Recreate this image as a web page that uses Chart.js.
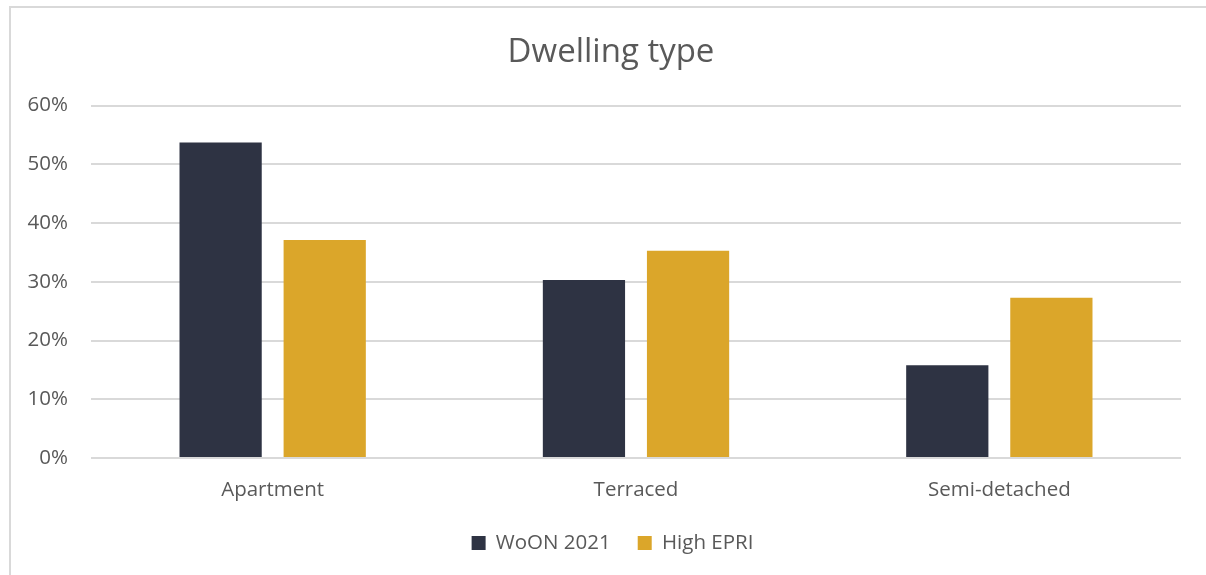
<!DOCTYPE html>
<html>
<head>
<meta charset="utf-8">
<script src="https://cdn.jsdelivr.net/npm/chart.js@4/dist/chart.umd.min.js"></script>
<style>
    html, body { margin: 0; padding: 0; background: #fff; overflow: hidden; }
    #wrap { position: relative; width: 1206px; height: 575px; }
    #frame { position: absolute; left: 9px; top: 6px; width: 1220px; height: 600px; border: 2px solid #d9d9d9; box-sizing: border-box; }
    #chart { position: absolute; left: 0; top: 0; }
</style>
</head>
<body>
<div id="wrap">
    <div id="frame"></div>
    <canvas id="chart" width="1206" height="575"></canvas>
</div>
<script>
const categories = ['Apartment', 'Terraced', 'Semi-detached'];
const woonValues = [53.7, 30.3, 15.8];
const highEpriValues = [37.1, 35.3, 27.3];
const yTicks = [0, 10, 20, 30, 40, 50, 60];

const textColor = '#595959';
const fontFamily = "'Open Sans', 'Noto Sans', sans-serif";

// title and legend are centred on the outer frame, not on the plot
const centreShift = {
    id: 'centreShift',
    afterLayout(chart) {
        chart.titleBlock.left += 20.5;
        chart.titleBlock.right += 20.5;
        chart.legend.left += 22;
        chart.legend.right += 22;
    }
};

new Chart(document.getElementById('chart'), {
    type: 'bar',
    data: {
        labels: categories,
        datasets: [
            {
                label: 'WoON 2021',
                data: woonValues,
                backgroundColor: '#2e3343',
                categoryPercentage: 0.573,
                barPercentage: 0.79,
            },
            {
                label: 'High EPRI',
                data: highEpriValues,
                backgroundColor: '#dba62a',
                categoryPercentage: 0.573,
                barPercentage: 0.79,
            }
        ]
    },
    options: {
        responsive: false,
        animation: false,
        layout: {
            padding: { left: 0, right: 25, top: 0, bottom: 11.75 }
        },
        plugins: {
            title: {
                display: true,
                text: 'Dwelling type',
                color: textColor,
                font: { family: fontFamily, size: 33, weight: 'normal' },
                padding: { top: 33, bottom: 33 }
            },
            legend: {
                position: 'bottom',
                labels: {
                    color: textColor,
                    font: { family: fontFamily, size: 20.5 },
                    boxWidth: 14,
                    boxHeight: 14,
                    padding: 27
                }
            },
            tooltip: { enabled: false }
        },
        scales: {
            x: {
                afterFit: scale => { scale.height = 47.75; },
                grid: { display: false, drawTicks: false },
                border: { display: false },
                ticks: {
                    color: textColor,
                    font: { family: fontFamily, size: 20.5 },
                    padding: 20
                }
            },
            y: {
                min: 0,
                max: 60,
                afterFit: scale => { scale.width = 91; },
                afterBuildTicks: scale => { scale.ticks = yTicks.map(v => ({ value: v })); },
                grid: { color: '#d9d9d9', lineWidth: 2, drawTicks: false },
                border: { display: false },
                ticks: {
                    color: textColor,
                    font: { family: fontFamily, size: 20.5 },
                    padding: 23,
                    callback: v => v + '%'
                }
            }
        }
    },
    plugins: [centreShift]
});
</script>
</body>
</html>
